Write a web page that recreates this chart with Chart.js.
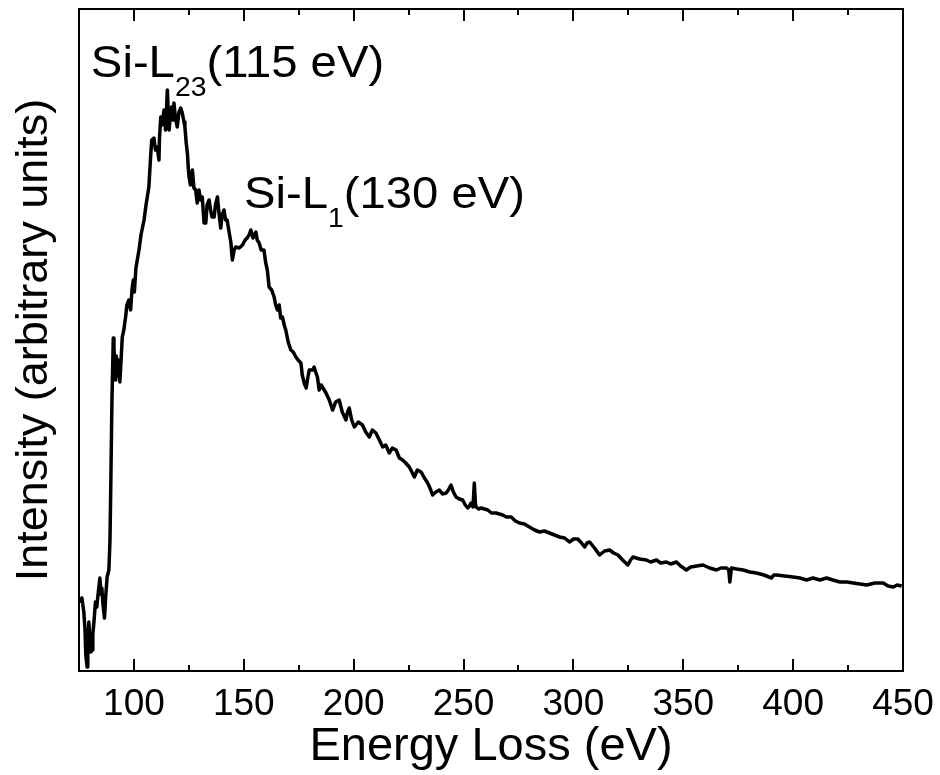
<!DOCTYPE html>
<html>
<head>
<meta charset="utf-8">
<title>Si L-edge EELS spectrum</title>
<script src="https://cdn.jsdelivr.net/npm/chart.js@4.4.1/dist/chart.umd.min.js"></script>
<style>
  html, body { margin: 0; padding: 0; background: #fff; }
  #wrap { width: 940px; height: 775px; }
</style>
</head>
<body>
<div id="wrap"><canvas id="c" width="940" height="775"></canvas></div>
<script>
// Energy loss (eV)
const energy = [
  75.7, 76.3, 77.2, 77.7, 78.1, 78.7, 79.0, 79.5, 79.9, 80.4, 81.0, 81.3, 81.8, 82.5, 83.1, 83.6,
  84.5, 85.0, 85.4, 85.9, 86.6, 87.2, 87.8, 88.6, 89.1, 89.5, 90.0, 90.6, 90.9, 91.3, 91.7, 92.0,
  92.5, 92.9, 93.6, 94.1, 94.7, 95.4, 96.2, 96.8, 97.7, 98.5, 99.1, 99.7, 100.2, 100.9, 102.3, 103.2,
  104.6, 105.5, 106.8, 107.5, 108.1, 109.1, 109.8, 110.6, 111.4, 111.6, 112.2, 112.8, 113.7, 114.4, 115.2, 116.0,
  116.6, 117.2, 117.8, 118.2, 118.9, 119.7, 120.5, 121.3, 122.0, 122.8, 123.2, 123.8, 124.4, 124.7, 125.1, 125.7,
  126.6, 127.3, 128.1, 128.8, 129.6, 130.3, 131.1, 131.9, 132.7, 133.3, 134.2, 134.9, 135.5, 136.5, 137.1, 138.0,
  138.7, 139.5, 140.1, 141.0, 141.7, 142.4, 143.3, 144.1, 144.8, 145.6, 146.3, 147.9, 149.4, 150.6, 151.5, 152.4,
  153.2, 154.2, 155.5, 156.1, 157.0, 157.9, 159.2, 159.9, 160.7, 161.5, 162.7, 163.8, 164.5, 165.3, 166.1, 166.8,
  167.6, 168.4, 169.1, 170.2, 171.4, 172.5, 173.7, 174.7, 176.0, 176.6, 177.5, 178.4, 179.1, 179.8, 181.3, 182.0,
  182.7, 183.5, 184.3, 185.2, 185.8, 187.4, 188.9, 190.4, 191.8, 193.4, 194.8, 196.5, 197.1, 198.0, 199.1, 200.3,
  202.1, 204.0, 205.5, 207.1, 208.5, 210.1, 211.7, 213.2, 214.6, 216.2, 217.6, 219.3, 220.8, 222.3, 223.7, 225.3,
  226.5, 227.6, 229.0, 230.7, 232.2, 233.7, 234.9, 235.9, 237.4, 239.0, 240.4, 242.1, 243.1, 244.3, 245.4, 246.6,
  248.1, 249.6, 250.8, 251.9, 252.7, 253.4, 254.3, 254.9, 255.4, 255.7, 256.8, 258.0, 259.5, 261.0, 262.7, 264.8,
  266.3, 267.8, 269.5, 271.7, 273.6, 275.5, 277.7, 280.0, 282.3, 284.6, 286.8, 289.1, 291.4, 293.7, 296.0, 298.2,
  300.1, 302.0, 303.7, 305.1, 306.2, 307.4, 309.6, 311.9, 314.2, 316.5, 318.3, 320.3, 322.4, 324.8, 326.0, 327.1,
  330.1, 333.2, 335.2, 337.8, 339.7, 342.3, 344.3, 346.9, 348.8, 351.4, 353.4, 356.1, 359.0, 362.0, 365.1, 367.1,
  369.7, 370.7, 371.2, 371.9, 374.3, 377.2, 380.3, 383.3, 386.7, 390.2, 391.2, 392.4, 396.2, 400.0, 403.1, 406.1,
  409.0, 412.2, 415.2, 418.1, 421.3, 424.5, 427.4, 430.4, 433.5, 437.2, 441.0, 443.2, 445.6, 447.3, 449.4
];

// Intensity (arbitrary units)
const intensity = [
  68, 73, 59, 43, 16, 4, 29, 49, 33, 19, 21, 37, 49, 69, 64, 75,
  93, 77, 83, 67, 53, 76, 94, 101, 131, 191, 271, 333, 325, 299, 291, 315,
  295, 311, 289, 309, 334, 341, 354, 366, 371, 361, 381, 391, 379, 403, 421, 436,
  451, 466, 484, 511, 531, 533, 521, 524, 511, 531, 554, 546, 561, 541, 581, 541,
  556, 564, 551, 568, 553, 544, 559, 563, 558, 549, 544, 528, 516, 504, 494, 486,
  501, 483, 481, 468, 481, 471, 474, 448, 448, 466, 471, 461, 454, 454, 466, 474,
  458, 443, 456, 461, 451, 451, 439, 429, 411, 421, 424, 423, 426, 431, 433, 436,
  441, 433, 439, 431, 428, 421, 421, 409, 401, 384, 381, 374, 366, 361, 366, 353,
  354, 346, 341, 329, 321, 319, 314, 311, 308, 296, 288, 283, 293, 301, 301, 304,
  299, 294, 281, 286, 284, 278, 271, 261, 269, 271, 259, 251, 258, 263, 251, 244,
  249, 246, 239, 234, 241, 238, 231, 224, 226, 218, 223, 221, 213, 211, 208, 204,
  199, 194, 201, 199, 193, 188, 182, 176, 179, 181, 177, 178, 181, 186, 179, 174,
  172, 171, 166, 163, 165, 168, 164, 188, 168, 164, 162, 163, 162, 161, 158, 158,
  157, 156, 154, 154, 150, 148, 147, 144, 141, 139, 140, 138, 136, 134, 133, 129,
  132, 132, 128, 124, 128, 129, 123, 116, 120, 121, 118, 116, 111, 106, 111, 114,
  112, 111, 109, 111, 108, 109, 107, 109, 105, 101, 104, 105, 106, 103, 101, 103,
  103, 101, 89, 103, 102, 101, 99, 98, 96, 93, 96, 96, 95, 94, 93, 91,
  93, 91, 93, 91, 89, 89, 88, 87, 86, 88, 88, 85, 84, 86, 85
];

// Axis ticks
const majorTicks = [100, 150, 200, 250, 300, 350, 400, 450];
const minorTicks = [125, 175, 225, 275, 325, 375, 425];

// Peak annotations: [main text, subscript, tail text, energy, intensity]
const peakLabels = [
  ['Si-L', '23', '(115 eV)', 80.4, 594],
  ['Si-L', '1', '(130 eV)', 150.1, 463]
];

const FONT = "'Liberation Sans', Arial, Helvetica, sans-serif";

// Draws the closed frame and the inward ticks on bottom and top edges.
const framePlugin = {
  id: 'frame',
  afterDatasetsDraw(chart) {
    const { ctx, chartArea: a, scales } = chart;
    ctx.save();
    ctx.strokeStyle = '#000';
    ctx.lineWidth = 2;
    ctx.strokeRect(a.left, a.top, a.right - a.left, a.bottom - a.top);
    const drawTick = (v, len) => {
      const x = Math.round(scales.x.getPixelForValue(v));
      ctx.beginPath();
      ctx.moveTo(x, a.bottom);
      ctx.lineTo(x, a.bottom - len);
      ctx.moveTo(x, a.top);
      ctx.lineTo(x, a.top + len);
      ctx.stroke();
    };
    majorTicks.forEach(v => drawTick(v, 12));
    minorTicks.forEach(v => drawTick(v, 6));
    ctx.restore();
  }
};

// Draws peak labels with subscripted level names (text slightly widened).
const labelPlugin = {
  id: 'peakLabels',
  afterDraw(chart) {
    const { ctx, scales } = chart;
    const sx = 1.05;
    ctx.save();
    ctx.fillStyle = '#000';
    ctx.textBaseline = 'alphabetic';
    ctx.textAlign = 'left';
    peakLabels.forEach(([main, sub, tail, e, i]) => {
      const x0 = scales.x.getPixelForValue(e);
      const y = scales.y.getPixelForValue(i);
      ctx.save();
      ctx.translate(x0, y);
      ctx.scale(sx, 1);
      let x = 0;
      ctx.font = '45px ' + FONT;
      ctx.fillText(main, x, 0);
      x += ctx.measureText(main).width;
      ctx.font = '27px ' + FONT;
      ctx.fillText(sub, x, 19);
      x += ctx.measureText(sub).width;
      ctx.font = '45px ' + FONT;
      ctx.fillText(tail, x, 0);
      ctx.restore();
    });
    ctx.restore();
  }
};

new Chart(document.getElementById('c'), {
  type: 'line',
  data: {
    datasets: [{
      data: energy.map((e, k) => ({ x: e, y: intensity[k] })),
      borderColor: '#000',
      borderWidth: 3.5,
      pointRadius: 0,
      tension: 0,
      borderJoinStyle: 'round',
      fill: false
    }]
  },
  options: {
    responsive: false,
    animation: false,
    events: [],
    layout: { padding: { top: 9, right: 37, left: 0, bottom: 0 } },
    plugins: { legend: { display: false }, tooltip: { enabled: false } },
    scales: {
      x: {
        type: 'linear',
        min: 75,
        max: 450,
        afterBuildTicks(scale) {
          scale.ticks = majorTicks.map(v => ({ value: v }));
        },
        afterFit(scale) {
          scale.height = 104;
          scale.paddingLeft = 0;
          scale.paddingRight = 0;
        },
        grid: { display: false, drawTicks: false },
        border: { display: false },
        ticks: {
          color: '#000',
          font: { family: FONT, size: 37 },
          padding: 12,
          maxRotation: 0,
          autoSkip: false
        },
        title: {
          display: true,
          text: 'Energy Loss (eV)',
          color: '#000',
          font: { family: FONT, size: 47 },
          padding: { top: 0, bottom: 0 }
        }
      },
      y: {
        type: 'linear',
        min: 0,
        max: 662,
        afterFit(scale) { scale.width = 79; },
        grid: { display: false, drawTicks: false },
        border: { display: false },
        ticks: { display: false },
        title: {
          display: true,
          text: 'Intensity (arbitrary units)',
          color: '#000',
          font: { family: FONT, size: 45 },
          padding: { top: 8, bottom: 0 }
        }
      }
    }
  },
  plugins: [framePlugin, labelPlugin]
});
</script>
</body>
</html>
